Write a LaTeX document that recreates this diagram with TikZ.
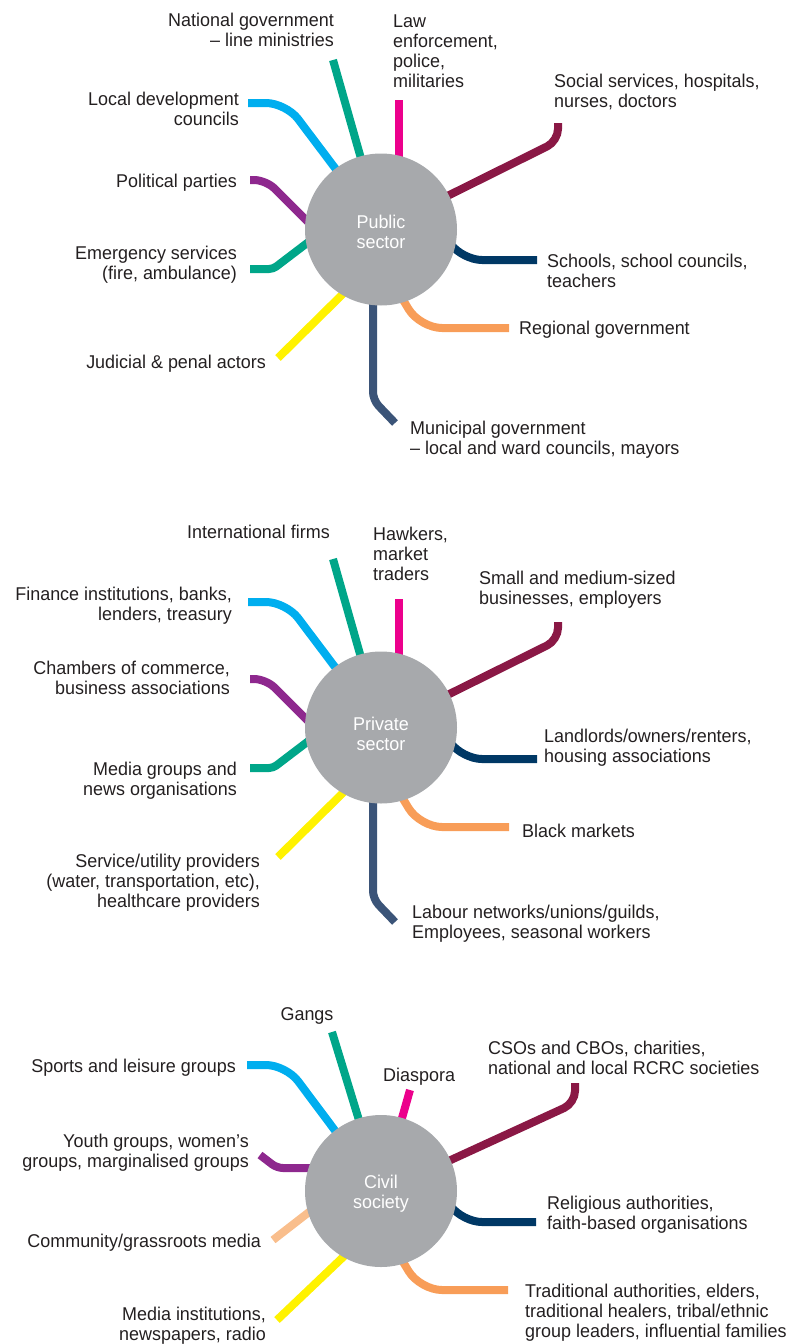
\documentclass[tikz,border=0pt]{standalone}
\usepackage{fontspec}
\setmainfont[FakeStretch=0.97]{Liberation Sans}
\usepackage{tikz}
\usetikzlibrary{positioning}
\usepackage{xcolor}

\definecolor{sgreen}{RGB}{0,166,137}
\definecolor{smagenta}{RGB}{236,0,140}
\definecolor{scyan}{RGB}{0,174,239}
\definecolor{spurple}{RGB}{142,40,142}
\definecolor{syellow}{RGB}{255,242,0}
\definecolor{sslate}{RGB}{59,84,120}
\definecolor{sorange}{RGB}{248,157,88}
\definecolor{snavy}{RGB}{0,56,101}
\definecolor{smaroon}{RGB}{138,24,69}
\definecolor{speach}{RGB}{249,190,140}
\definecolor{hubgray}{RGB}{167,169,172}
\definecolor{txt}{RGB}{35,31,32}

\newcommand{\lbl}{\fontsize{18.5}{20}\selectfont}

\tikzset{
  spoke/.style={line width=8pt},
  hub/.style={circle, fill=hubgray, minimum size=152pt, inner sep=0pt},
  hubtext/.style={align=center, inner sep=0pt, text=white, font=\lbl},
  lblL/.style={anchor=north east, align=right, inner sep=0pt, text=txt, font=\lbl},
  lblR/.style={anchor=north west, align=left, inner sep=0pt, text=txt, font=\lbl},
  lblC/.style={anchor=north, align=center, inner sep=0pt, text=txt, font=\lbl}
}

% the ten spokes shared by the public and private sector
\newcommand{\tenspokes}{%
\draw[spoke, sgreen] (333,60) -- (381,229);
\draw[spoke, smagenta] (399,100) -- (399,229);
\draw[spoke, scyan, rounded corners=20pt] (248,103) -- (286,103) -- (381,229);
\draw[spoke, spurple, rounded corners=12pt] (250,180) -- (266,180) -- (340,254);
\draw[spoke, sgreen, rounded corners=4pt] (250,269) -- (273,269) -- (340,218);
\draw[spoke, syellow] (278,358) -- (360,277);
\draw[spoke, sslate, rounded corners=8pt] (373,229) -- (373,400) -- (395,423);
\draw[spoke, sorange, rounded corners=22pt] (385,270) -- (420,328) -- (509,328);
\draw[spoke, snavy, rounded corners=20pt] (430,215) -- (462,260) -- (537,260);
\draw[spoke, smaroon, rounded corners=12pt] (381,229) -- (558,141) -- (558,123);
}

\begin{document}
\begin{tikzpicture}[x=1pt, y=-1pt]
\useasboundingbox (0,0) rectangle (800,1344);

%% public sector
\tenspokes
\node[hub] (pub) at (381,229.5) {};
\node[hubtext] (pubtxt) at (381,232) {Public\\sector};
\node[lblL] (natgov) at (334,13) {National government\\– line ministries};
\node[lblR] (law) at (393,15) {Law\\enforcement,\\police,\\militaries};
\node[lblL] (localdev) at (239,92) {Local development\\councils};
\node[lblL] (polit) at (237,174) {Political parties};
\node[lblL] (emerg) at (237,246) {Emergency services\\(fire, ambulance)};
\node[lblL] (judic) at (266,355) {Judicial \& penal actors};
\node[lblR] (social) at (554,74) {Social services, hospitals,\\nurses, doctors};
\node[lblR] (school) at (547,254) {Schools, school councils,\\teachers};
\node[lblR] (region) at (519,321) {Regional government};
\node[lblR] (munic) at (410,421) {Municipal government\\– local and ward councils, mayors};

%% private sector
\begin{scope}[shift={(0,499)}]
\tenspokes
\end{scope}
\node[hub] (priv) at (381,727.5) {};
\node[hubtext] (privtxt) at (381,734) {Private\\sector};
\node[lblL] (intl) at (330,525) {International firms};
\node[lblR] (hawk) at (373,527) {Hawkers,\\market\\traders};
\node[lblR] (small) at (479,571) {Small and medium-sized\\businesses, employers};
\node[lblL] (finance) at (232,587) {Finance institutions, banks,\\lenders, treasury};
\node[lblL] (chamb) at (230,661) {Chambers of commerce,\\business associations};
\node[lblL] (media) at (237,762) {Media groups and\\news organisations};
\node[lblL] (service) at (260,854) {Service/utility providers\\(water, transportation, etc),\\healthcare providers};
\node[lblR] (landl) at (544,729) {Landlords/owners/renters,\\housing associations};
\node[lblR] (black) at (522,824) {Black markets};
\node[lblR] (labour) at (412,905) {Labour networks/unions/guilds,\\Employees, seasonal workers};

%% civil society
\draw[spoke, sgreen] (332,1032) -- (381,1192);
\draw[spoke, scyan, rounded corners=20pt] (247,1065) -- (286,1065) -- (381,1192);
\draw[spoke, smagenta] (410,1090) -- (381,1192);
\draw[spoke, smaroon, rounded corners=12pt] (381,1192) -- (575,1103) -- (575,1083);
\draw[spoke, spurple, rounded corners=6pt] (260,1155) -- (277,1168) -- (340,1168);
\draw[spoke, speach] (273,1240) -- (340,1188);
\draw[spoke, syellow] (277,1320) -- (360,1241);
\draw[spoke, snavy, rounded corners=20pt] (430,1177) -- (462,1222) -- (536,1222);
\draw[spoke, sorange, rounded corners=22pt] (385,1232) -- (420,1290) -- (508,1290);
\node[hub] (civ) at (381,1191) {};
\node[hubtext] (civtxt) at (381,1194) {Civil\\society};
\node[lblC] (gangs) at (307,1007) {Gangs};
\node[lblL] (sports) at (236,1059) {Sports and leisure groups};
\node[lblR] (diasp) at (383,1068) {Diaspora};
\node[lblR] (csos) at (488,1041) {CSOs and CBOs, charities,\\national and local RCRC societies};
\node[lblL] (youth) at (249,1134) {Youth groups, women’s\\groups, marginalised groups};
\node[lblL] (commun) at (261,1234) {Community/grassroots media};
\node[lblL] (medinst) at (266,1307) {Media institutions,\\newspapers, radio};
\node[lblR] (relig) at (547,1196) {Religious authorities,\\faith-based organisations};
\node[lblR] (tradit) at (525,1284) {Traditional authorities, elders,\\traditional healers, tribal/ethnic\\group leaders, influential families};
\end{tikzpicture}
\end{document}
